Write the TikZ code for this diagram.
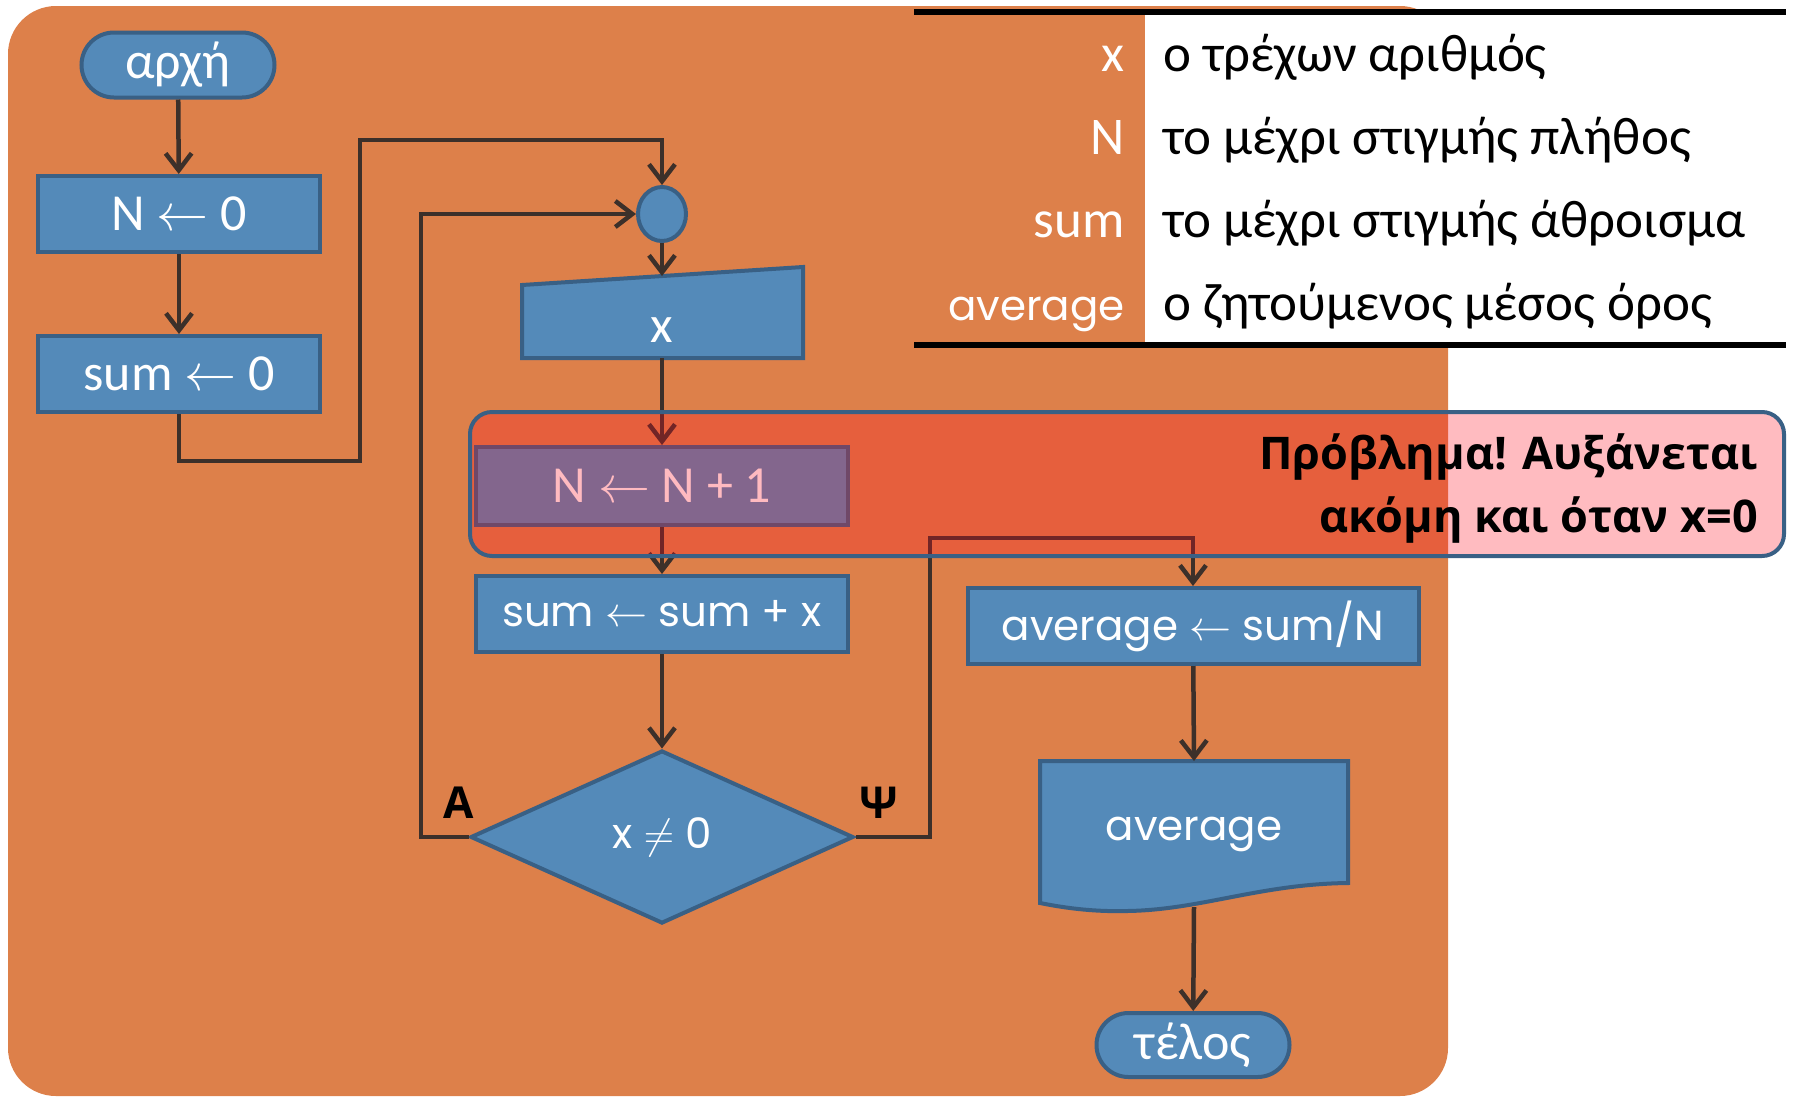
\RequirePackage{fix-cm}
\documentclass[tikz,border=0pt]{standalone}
\usepackage{amsmath}
\usepackage{amssymb}
\usepackage{fontspec}
\setmainfont{Carlito}
\newfontfamily\geofont{Poppins}
\newfontfamily\headfont{Open Sans}
\usetikzlibrary{arrows.meta,shapes.geometric,shapes.misc}

\definecolor{bgorange}{RGB}{221,128,74}
\definecolor{boxblue}{RGB}{84,138,185}
\definecolor{boxedge}{RGB}{57,96,133}
\definecolor{flowline}{RGB}{60,48,42}
\definecolor{warnred}{RGB}{255,10,30}

\tikzset{
  blockbox/.style={draw=boxedge, fill=boxblue, line width=4pt, text=white, inner sep=0pt},
  procbox/.style={blockbox, rectangle, minimum height=76pt},
  termbox/.style={blockbox, rounded rectangle, minimum width=193pt, minimum height=65pt},
  flow/.style={draw=flowline, line width=4.5pt, -{Straight Barb[length=17pt,width=26pt]}},
  bigtext/.style={font=\fontsize{52}{60}\selectfont},
  geotext/.style={font=\geofont\fontsize{42}{50}\selectfont},
  tabletext/.style={font=\fontsize{53}{58}\selectfont, inner sep=0pt},
  branchlbl/.style={font=\headfont\bfseries\fontsize{44}{50}\selectfont, text=black, inner sep=0pt},
  warnbox/.style={rectangle, rounded corners=22pt, draw=boxedge, line width=4pt,
    fill=warnred, fill opacity=0.28, minimum width=1314pt, minimum height=144pt},
  tablerule/.style={draw=black, line width=6pt}
}

\begin{document}
\begin{tikzpicture}[x=1pt,y=1pt,yscale=-1,xscale=1]
        \useasboundingbox (0,0) rectangle (1794,1096);

        %Shape: Background
        \fill[bgorange, rounded corners=48pt] (8,6) rectangle (1448,1096);

        %Shape: Legend table
        \fill[white] (1145,12) rectangle (1786,345);
        \draw[tablerule] (914,12) -- (1786,12);
        \draw[tablerule] (914,345) -- (1786,345);

        % Text Node
        \node[tabletext, text=white, anchor=base east] (vx) at (1125,71) {x};
        \node[tabletext, text=white, anchor=base east] (vn) at (1125,154) {N};
        \node[tabletext, text=white, anchor=base east] (vsum) at (1125,237) {sum};
        \node[tabletext, text=white, anchor=base east, font=\geofont\fontsize{42}{50}\selectfont] (vavg) at (1125,320) {average};
        \node[tabletext, anchor=base west] (dx) at (1163,71) {ο τρέχων αριθμός};
        \node[tabletext, anchor=base west] (dn) at (1163,154) {το μέχρι στιγμής πλήθος};
        \node[tabletext, anchor=base west] (dsum) at (1163,237) {το μέχρι στιγμής άθροισμα};
        \node[tabletext, anchor=base west] (davg) at (1163,320) {ο ζητούμενος μέσος όρος};

        %Shape: Terminal
        \node[termbox, bigtext] (start) at (178,65) {αρχή};
        %Shape: Rectangle
        \node[procbox, bigtext, minimum width=282pt] (n0) at (179,214) {N $\leftarrow$ 0};
        %Shape: Rectangle
        \node[procbox, bigtext, minimum width=282pt] (s0) at (179,374) {sum $\leftarrow$ 0};
        %Shape: Ellipse
        \node[blockbox, ellipse, minimum width=48pt, minimum height=54pt] (join) at (662,214) {};

        %Shape: Manual input
        \draw[blockbox] (522,285) -- (803,267) -- (803,358) -- (522,358) -- cycle;
        \node[bigtext, text=white, inner sep=0pt] (inx) at (662,330) {x};
        \coordinate (intop) at (662,276);
        \coordinate (inbot) at (662,358);

        %Shape: Rectangle
        \node[procbox, bigtext, minimum width=372pt, minimum height=78pt] (inc) at (662,486) {N $\leftarrow$ N + 1};
        %Shape: Rectangle
        \node[procbox, geotext, minimum width=372pt] (acc) at (662,614) {sum $\leftarrow$ sum + x};
        %Shape: Diamond
        \node[blockbox, diamond, geotext, minimum width=383pt, minimum height=173pt] (test) at (662,837) {x $\neq$ 0};
        %Shape: Rectangle
        \node[procbox, geotext, minimum width=451pt] (avg) at (1193,626) {average $\leftarrow$ sum/N};

        %Shape: Document
        \draw[blockbox] (1040,761) -- (1348,761) -- (1348,883)
            .. controls (1260,884) and (1200,910) .. (1127,911)
            .. controls (1090,912) and (1060,907) .. (1040,903) -- cycle;
        \node[geotext, text=white, inner sep=0pt] (outavg) at (1194,834) {average};
        \coordinate (outtop) at (1194,761);
        \coordinate (outbot) at (1194,907);

        %Shape: Terminal
        \node[termbox, bigtext, minimum height=64pt] (stop) at (1193,1045) {τέλος};

        %Straight Lines
        \coordinate (bendA) at (360,461);
        \coordinate (bendB) at (360,140);
        \coordinate (loopL) at (421,837);
        \coordinate (loopR) at (930,837);
        \coordinate (bendC) at (930,538);
        \draw[flow] (start) -- (n0);
        \draw[flow] (n0) -- (s0);
        \draw[flow] (s0.south) |- (bendA) -- (bendB) -| (join.north);
        \draw[flow] (join) -- (intop);
        \draw[flow] (inbot) -- (inc);
        \draw[flow] (inc) -- (acc);
        \draw[flow] (acc) -- (test);
        \draw[flow] (test.west) -- (loopL) |- (join.west);
        \draw[flow] (test.east) -- (loopR) -- (bendC) -| (avg.north);
        \draw[flow] (avg) -- (outtop);
        \draw[flow] (outbot) -- (stop);

        % Text Node
        \node[branchlbl] (yes) at (459,803) {Α};
        \node[branchlbl] (no) at (879,803) {Ψ};

        %Shape: Highlight
        \node[warnbox] (warn) at (1127,484) {};
        % Text Node
        \node[font=\headfont\bfseries\fontsize{45}{63}\selectfont, align=right, anchor=base east, inner sep=0pt] (warntxt) at (1758,532) {Πρόβλημα! Αυξάνεται\\ακόμη και όταν x=0};

\end{tikzpicture}
\end{document}
